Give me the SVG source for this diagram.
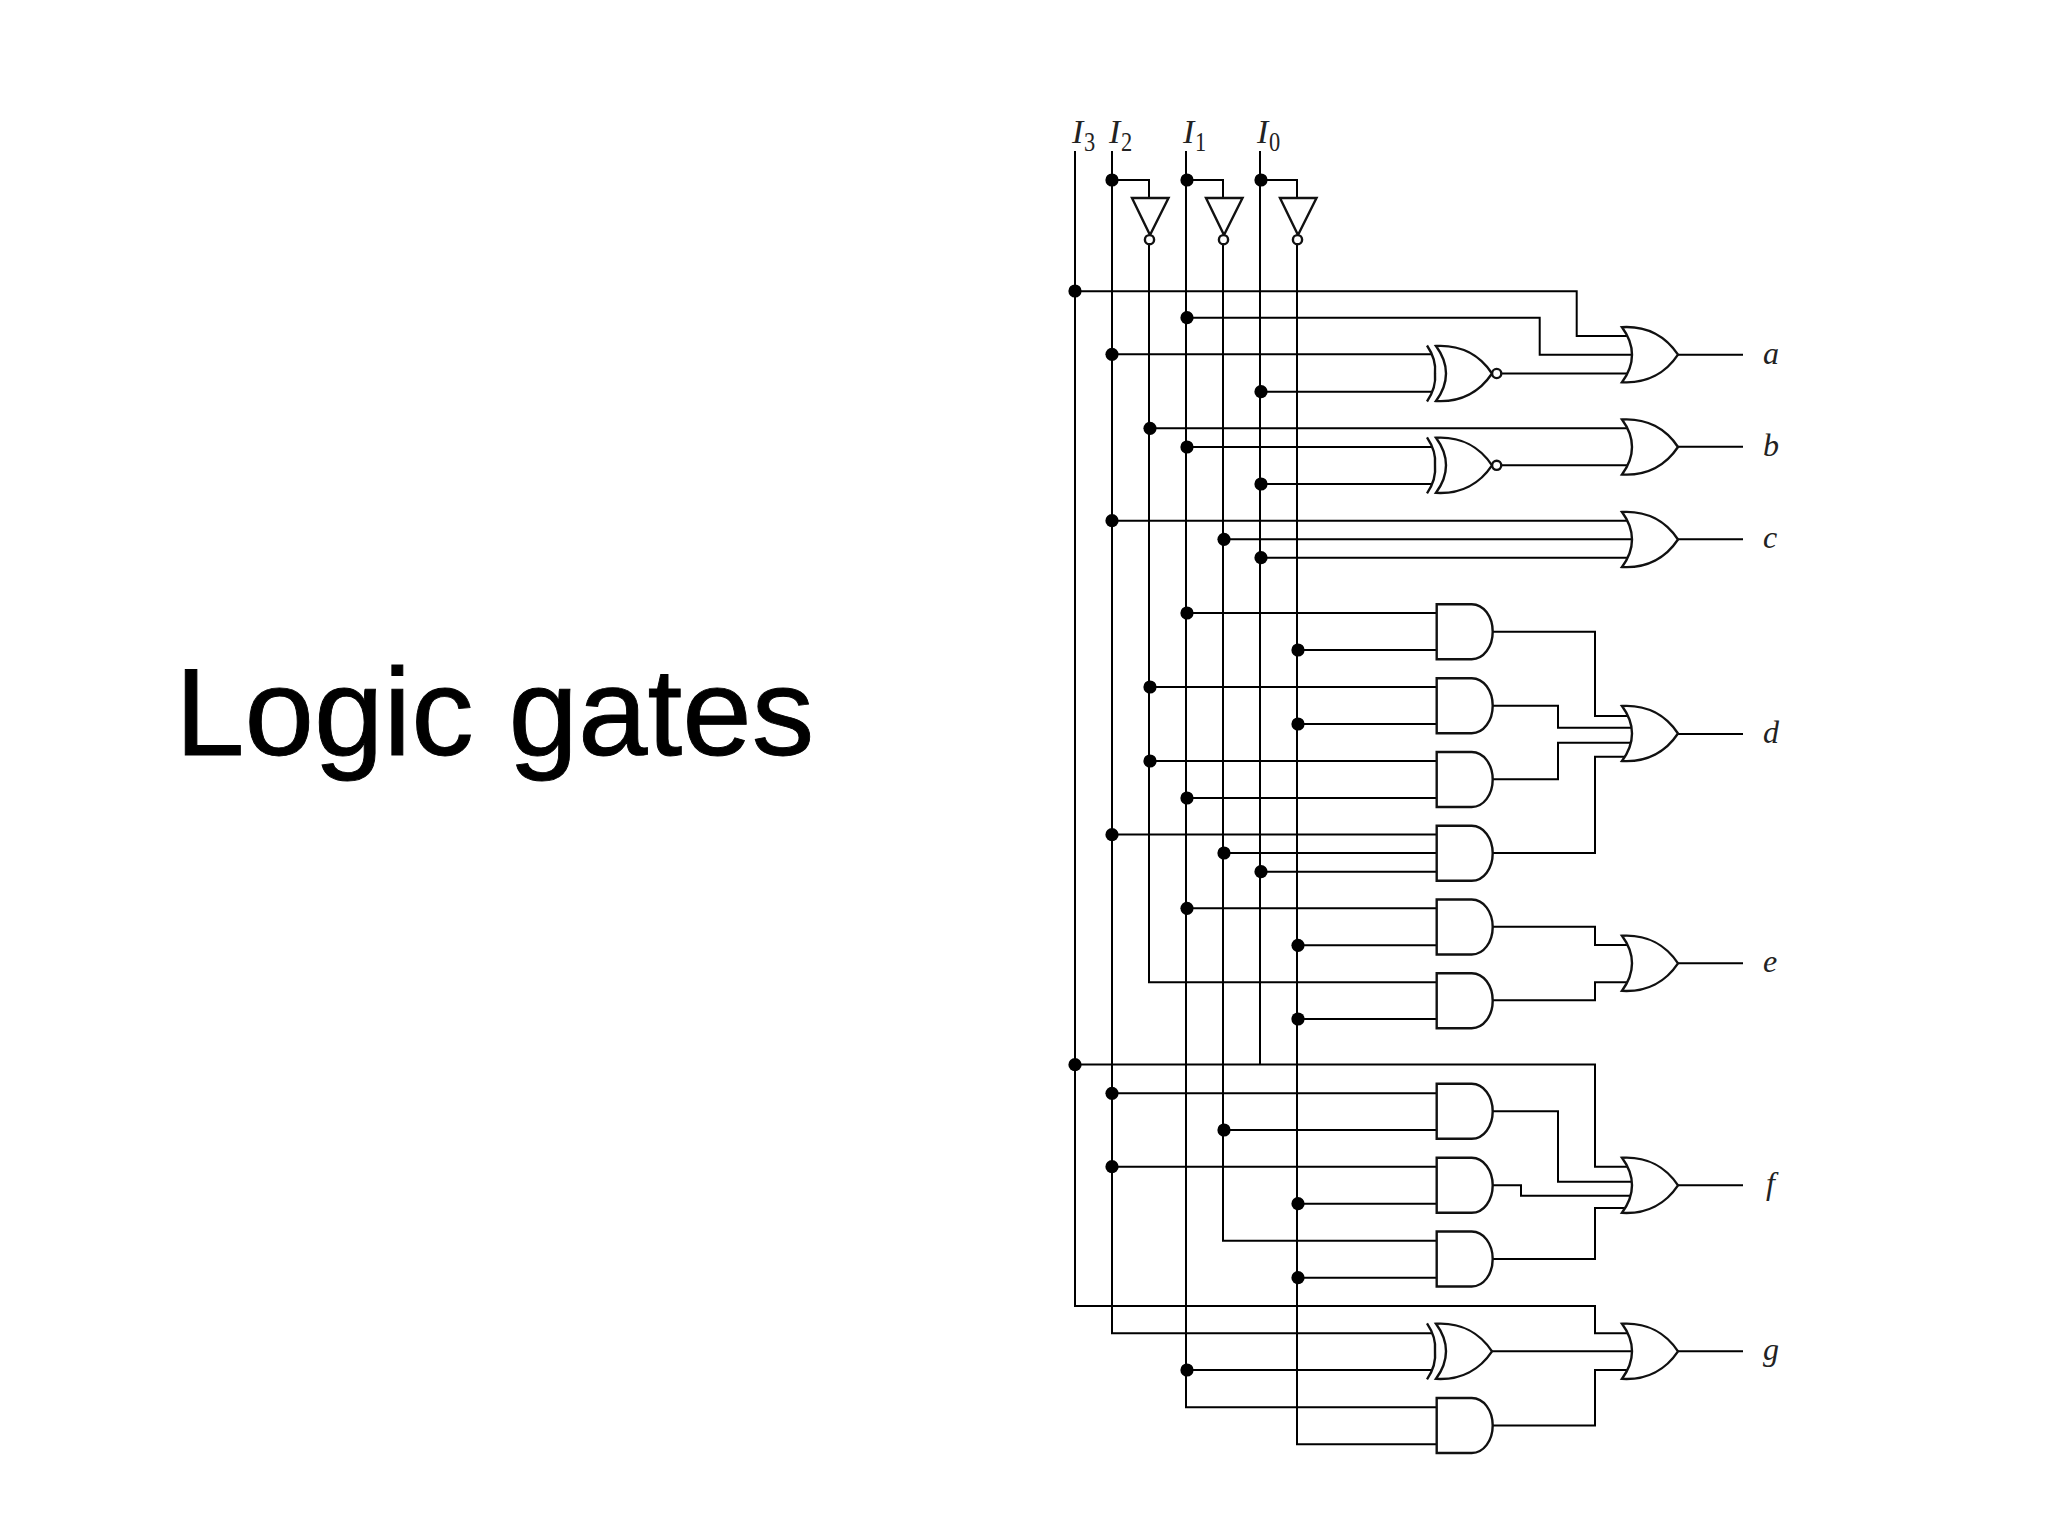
<svg xmlns="http://www.w3.org/2000/svg" width="2048" height="1536" viewBox="0 0 2048 1536">
<style>
.w{fill:none;stroke:#000;stroke-width:2}
.g{fill:#fff;stroke:#111;stroke-width:2.4}
.b{fill:none;stroke:#111;stroke-width:2.4}
.d{fill:#000;stroke:none}
.t{font-family:"Liberation Serif",serif;font-style:italic;font-size:32px;fill:#222}
.i{font-family:"Liberation Serif",serif;font-style:italic;font-size:34px;fill:#222}
.s{font-family:"Liberation Serif",serif;font-size:28px;fill:#222}
.h{font-family:"Liberation Sans",Arial,sans-serif;font-size:125px;fill:#000;stroke:#000;stroke-width:.9}
</style>
<defs>
<path id="orb" d="M0,-27.5Q10,-14 10,0Q10,14 0,27.5C25,29 44,18 56,0C44,-18 25,-29 0,-27.5Z"/>
<path id="xb" d="M-9.5,-28Q0,-14 -1.5,0Q0,14 -9.5,28"/>
<path id="andb" d="M0,-27.5H35C47,-27.5 56,-15 56,0C56,15 47,27.5 35,27.5H0Z"/>
<path id="invb" d="M-18,0H18.5L0,37Z"/>
<circle id="dot" r="6.6"/>
</defs>
<rect width="2048" height="1536" fill="#fff"/>
<text id="title" class="h" x="175" y="755">Logic gates</text>

<g id="connectors">
<path class="w" d="M1075,151V1306H1595V1333.3H1630"/>
<path class="w" d="M1112,151V1333.3H1432"/>
<path class="w" d="M1186,151V1407.3H1437"/>
<path class="w" d="M1260,151V1064.7"/>
<path class="w" d="M1112,180H1149V198M1186,180H1223V198M1260,180H1297V198"/>
<path class="w" d="M1149,244V982.3H1437"/>
<path class="w" d="M1223,244V1240.7H1437"/>
<path class="w" d="M1297,244V1444.3H1437"/>
<path class="w" d="M1075,291.3H1576.7V336H1630"/>
<path class="w" d="M1186,317.7H1539.7V354.7H1635"/>
<path class="w" d="M1112,354.3H1432M1260,391.7H1432M1501,373.5H1630"/>
<path class="w" d="M1149,428.3H1630M1186,447H1432M1260,484H1432M1501,465.3H1630"/>
<path class="w" d="M1112,520.7H1630M1223,539.3H1635M1260,557.7H1630"/>
<path class="w" d="M1186,613H1437M1297,650H1437"/>
<path class="w" d="M1149,687H1437M1297,724H1437M1149,761H1437M1186,798H1437"/>
<path class="w" d="M1112,834.5H1437M1223,853H1437M1260,871.7H1437M1186,908.3H1437M1297,945.3H1437M1297,1019H1437"/>
<path class="w" d="M1492,631.7H1595V716H1630"/>
<path class="w" d="M1492,705.7H1558V727.7H1635"/>
<path class="w" d="M1492,779.3H1558V742.7H1635"/>
<path class="w" d="M1492,853H1595V756.7H1630"/>
<path class="w" d="M1492,926.7H1595V945H1630"/>
<path class="w" d="M1492,1000.3H1595V982.3H1630"/>
<path class="w" d="M1075,1064.5H1595V1166.7H1630"/>
<path class="w" d="M1112,1093.3H1437M1223,1130H1437M1112,1166.7H1437M1297,1203.7H1437M1297,1277.7H1437"/>
<path class="w" d="M1492,1111.3H1558V1181.7H1635"/>
<path class="w" d="M1492,1185.3H1521V1195.7H1635"/>
<path class="w" d="M1492,1259H1595V1208H1630"/>
<path class="w" d="M1186,1370H1432M1490,1351.3H1635"/>
<path class="w" d="M1492,1425.5H1595V1370H1630"/>
<path class="w" d="M1678,354.7H1743M1678,446.7H1743M1678,539.3H1743M1678,734H1743M1678,963.3H1743M1678,1185.3H1743M1678,1351.3H1743"/>
<g class="d">
<use href="#dot" x="1075" y="291"/><use href="#dot" x="1075" y="1064.7"/>
<use href="#dot" x="1112" y="180"/><use href="#dot" x="1112" y="354.3"/><use href="#dot" x="1112" y="520.7"/><use href="#dot" x="1112" y="834.7"/><use href="#dot" x="1112" y="1093.3"/><use href="#dot" x="1112" y="1166.7"/>
<use href="#dot" x="1150" y="428.3"/><use href="#dot" x="1150" y="687"/><use href="#dot" x="1150" y="761"/>
<use href="#dot" x="1187" y="180"/><use href="#dot" x="1187" y="317.7"/><use href="#dot" x="1187" y="447"/><use href="#dot" x="1187" y="613"/><use href="#dot" x="1187" y="798"/><use href="#dot" x="1187" y="908.3"/><use href="#dot" x="1187" y="1370"/>
<use href="#dot" x="1224" y="539.3"/><use href="#dot" x="1224" y="853"/><use href="#dot" x="1224" y="1130"/>
<use href="#dot" x="1261" y="180"/><use href="#dot" x="1261" y="391.7"/><use href="#dot" x="1261" y="484"/><use href="#dot" x="1261" y="557.7"/><use href="#dot" x="1261" y="871.7"/>
<use href="#dot" x="1298" y="650"/><use href="#dot" x="1298" y="724"/><use href="#dot" x="1298" y="945.3"/><use href="#dot" x="1298" y="1019"/><use href="#dot" x="1298" y="1203.7"/><use href="#dot" x="1298" y="1277.7"/>
</g>
</g>

<g id="input-i3"><text class="i" x="1072" y="143">I</text><text class="s" x="1084" y="151" transform="translate(216.8 0) scale(.8 1)">3</text></g>
<g id="input-i2"><text class="i" x="1109" y="143">I</text><text class="s" x="1121" y="151" transform="translate(224.2 0) scale(.8 1)">2</text></g>
<g id="input-i1"><text class="i" x="1183" y="143">I</text><text class="s" x="1195" y="151" transform="translate(239 0) scale(.8 1)">1</text></g>
<g id="input-i0"><text class="i" x="1257" y="143">I</text><text class="s" x="1269" y="151" transform="translate(253.8 0) scale(.8 1)">0</text></g>

<g id="inv2"><use href="#invb" class="g" x="1150" y="198"/><circle class="g" cx="1149.5" cy="239.7" r="4.6"/></g>
<g id="inv1"><use href="#invb" class="g" x="1224" y="198"/><circle class="g" cx="1223.5" cy="239.7" r="4.6"/></g>
<g id="inv0"><use href="#invb" class="g" x="1298" y="198"/><circle class="g" cx="1297.5" cy="239.7" r="4.6"/></g>

<g id="xnor-a"><use href="#xb" class="b" x="1436.5" y="373.5"/><use href="#orb" class="g" x="1436" y="373.5"/><circle class="g" cx="1496.7" cy="373.5" r="4.6"/></g>
<g id="xnor-b"><use href="#xb" class="b" x="1436.5" y="465.3"/><use href="#orb" class="g" x="1436" y="465.3"/><circle class="g" cx="1496.7" cy="465.3" r="4.6"/></g>
<g id="xor-g"><use href="#xb" class="b" x="1436.5" y="1351.3"/><use href="#orb" class="g" x="1436" y="1351.3"/></g>

<g id="and1"><use href="#andb" class="g" x="1436.7" y="631.7"/></g>
<g id="and2"><use href="#andb" class="g" x="1436.7" y="705.7"/></g>
<g id="and3"><use href="#andb" class="g" x="1436.7" y="779.5"/></g>
<g id="and4"><use href="#andb" class="g" x="1436.7" y="853.3"/></g>
<g id="and5"><use href="#andb" class="g" x="1436.7" y="927"/></g>
<g id="and6"><use href="#andb" class="g" x="1436.7" y="1000.7"/></g>
<g id="and7"><use href="#andb" class="g" x="1436.7" y="1111.3"/></g>
<g id="and8"><use href="#andb" class="g" x="1436.7" y="1185.3"/></g>
<g id="and9"><use href="#andb" class="g" x="1436.7" y="1259"/></g>
<g id="and10"><use href="#andb" class="g" x="1436.7" y="1425.5"/></g>

<g id="or-a"><use href="#orb" class="g" x="1622" y="354.7"/><text class="t" x="1763" y="364">a</text></g>
<g id="or-b"><use href="#orb" class="g" x="1622" y="447"/><text class="t" x="1763" y="456">b</text></g>
<g id="or-c"><use href="#orb" class="g" x="1622" y="539.5"/><text class="t" x="1763" y="548">c</text></g>
<g id="or-d"><use href="#orb" class="g" x="1622" y="733.5"/><text class="t" x="1763" y="743">d</text></g>
<g id="or-e"><use href="#orb" class="g" x="1622" y="963.3"/><text class="t" x="1763" y="972">e</text></g>
<g id="or-f"><use href="#orb" class="g" x="1622" y="1185.3"/><text class="t" x="1766" y="1194">f</text></g>
<g id="or-g"><use href="#orb" class="g" x="1622" y="1351.3"/><text class="t" x="1763" y="1360">g</text></g>
</svg>
